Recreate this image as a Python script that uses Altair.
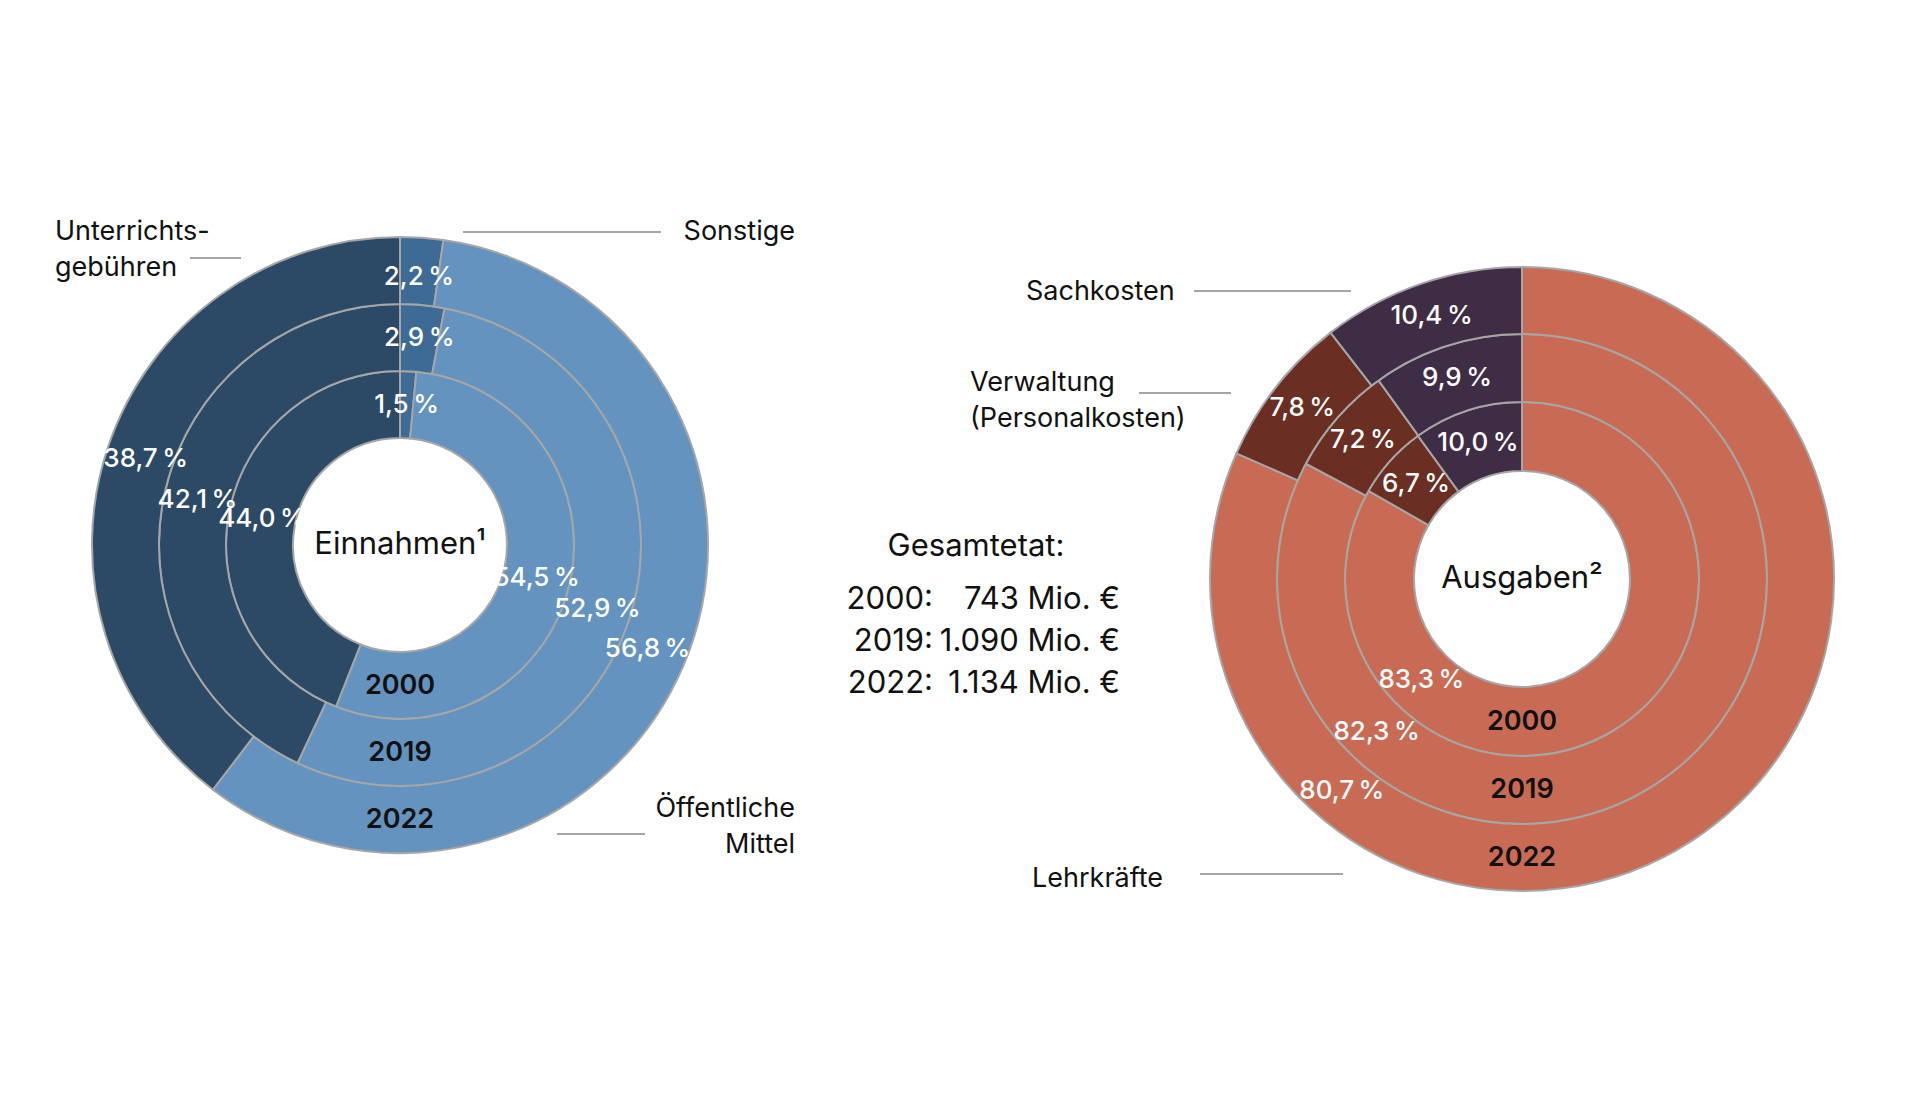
import math
import altair as alt
import pandas as pd

# ---------------- data ----------------
years = ["2000", "2019", "2022"]

ein_categories = ["Sonstige", "Öffentliche Mittel", "Unterrichtsgebühren"]
ein_2000 = [1.5, 54.5, 44.0]
ein_2019 = [2.9, 52.9, 42.1]
ein_2022 = [2.2, 56.8, 38.7]

aus_categories = ["Lehrkräfte", "Verwaltung (Personalkosten)", "Sachkosten"]
aus_2000 = [83.3, 6.7, 10.0]
aus_2019 = [82.3, 7.2, 9.9]
aus_2022 = [80.7, 7.8, 10.4]

total_years = ["2000:", "2019:", "2022:"]
total_values = ["743 Mio. €", "1.090 Mio. €", "1.134 Mio. €"]

ein_title = "Einnahmen¹"
aus_title = "Ausgaben²"
total_title = "Gesamtetat:"

# ---------------- styles ----------------
ein_colors = ["#3e6b96", "#6493bf", "#2c4a66"]
aus_colors = ["#c96b54", "#6a2e22", "#3f2d45"]
STROKE = "#a6a6a6"
FONT = "Inter"
TXT = "#111111"


def make_df(cats, series):
    rows = []
    for y, vals in zip(years, series):
        for i, (c, v) in enumerate(zip(cats, vals)):
            rows.append({"year": y, "category": c, "order": i, "value": v})
    return pd.DataFrame(rows)


ein_df = make_df(ein_categories, [ein_2000, ein_2019, ein_2022])
aus_df = make_df(aus_categories, [aus_2000, aus_2019, aus_2022])

theta_scale = alt.Scale(domain=[0, 1], range=[0, 2 * math.pi])
label_fmt = "replace(format(datum.value, '.1f'), '.', ',') + '\u2009%'"


def donut(df, cats, colors, cx, cy, radii, mid_expr, title, label_shift):
    arcs, texts = [], []
    cscale = alt.Scale(domain=cats, range=colors)
    for k, yr in enumerate(years):
        r_in, r_out = radii[k], radii[k + 1]
        r_mid = (r_in + r_out) / 2
        base = (
            alt.Chart(df)
            .transform_filter(alt.datum.year == yr)
            .transform_stack(
                stack="value",
                groupby=["year"],
                as_=["start", "end"],
                offset="normalize",
                sort=[alt.SortField("order", order="ascending")],
            )
            .transform_calculate(mid=mid_expr, label=label_fmt)
        )
        arcs.append(base.mark_arc(
            x=cx, y=cy, innerRadius=r_in, outerRadius=r_out,
            stroke=STROKE, strokeWidth=2,
        ).encode(
            theta=alt.Theta("start:Q", scale=theta_scale),
            theta2="end:Q",
            color=alt.Color("category:N", scale=cscale, legend=None),
        ))
        texts.append(base.mark_text(
            x=cx, y=cy, radius=r_mid - label_shift[k], color="white", font=FONT,
            fontSize=26, fontWeight=500,
        ).encode(
            theta=alt.Theta("mid:Q", scale=theta_scale),
            text="label:N",
        ))
        texts.append(base.transform_filter(alt.datum.order == 0).mark_text(
            x=cx, y=cy, radius=r_mid, theta=math.pi, color=TXT, font=FONT,
            fontSize=27, fontWeight=600,
        ).encode(text="year:N"))
    texts.append(alt.Chart(pd.DataFrame({"t": [title]})).mark_text(
        x=cx, y=cy, color=TXT, font=FONT, fontSize=31
    ).encode(text="t:N"))
    return arcs, texts


# chart coords = page coords - 8
l_arcs, l_texts = donut(
    ein_df, ein_categories, ein_colors, 392, 537, [107, 174, 241, 308],
    "(datum.start + datum.end) / 2", ein_title, [0, 0, 6],
)
r_arcs, r_texts = donut(
    aus_df, aus_categories, aus_colors, 1514, 571, [108, 177, 245, 312],
    "datum.category == 'Lehrkräfte' ? datum.start + 0.75 * (datum.end - datum.start) : (datum.start + datum.end) / 2",
    aus_title, [0, 0, 0],
)

one = pd.DataFrame({"d": [0]})

# category annotations: (text, x, y, align)
annotations = [
    ("Unterrichts-", 47, 224, "left"),
    ("gebühren", 47, 260, "left"),
    ("Sonstige", 787, 224, "right"),
    ("Öffentliche", 787, 801, "right"),
    ("Mittel", 787, 837, "right"),
    ("Sachkosten", 1018, 284, "left"),
    ("Verwaltung", 962, 375, "left"),
    ("(Personalkosten)", 962, 411, "left"),
    ("Lehrkräfte", 1024, 871, "left"),
]
leaders = [
    (182, 233, 250),
    (455, 653, 224),
    (549, 637, 826),
    (1186, 1343, 283),
    (1131, 1223, 385),
    (1192, 1335, 866),
]

ann_layers = []
for text, x, y, al in annotations:
    ann_layers.append(
        alt.Chart(one).mark_text(align=al, font=FONT, fontSize=27, color=TXT).encode(
            text=alt.value(text), x=alt.value(x), y=alt.value(y)
        )
    )
for x1, x2, y in leaders:
    ann_layers.append(
        alt.Chart(one).mark_rule(color=STROKE, strokeWidth=2).encode(
            x=alt.value(x1), x2=alt.value(x2), y=alt.value(y)
        )
    )

# Gesamtetat block
ann_layers.append(
    alt.Chart(one).mark_text(font=FONT, fontSize=31, color=TXT).encode(
        text=alt.value(total_title), x=alt.value(968), y=alt.value(539)
    )
)
for i, (ty, tv) in enumerate(zip(total_years, total_values)):
    yy = 592 + i * 42
    ann_layers.append(
        alt.Chart(one).mark_text(align="right", font=FONT, fontSize=31, color=TXT).encode(
            text=alt.value(ty), x=alt.value(925), y=alt.value(yy)
        )
    )
    ann_layers.append(
        alt.Chart(one).mark_text(align="right", font=FONT, fontSize=31, color=TXT).encode(
            text=alt.value(tv), x=alt.value(1112), y=alt.value(yy)
        )
    )

chart = (
    alt.layer(*(l_arcs + r_arcs + l_texts + r_texts + ann_layers))
    .resolve_scale(color="independent")
    .properties(width=1900, height=1080, padding=0, background="white")
    .configure_view(stroke=None)
)

chart.save("out.html", embed_options={"renderer": "svg", "actions": False})
